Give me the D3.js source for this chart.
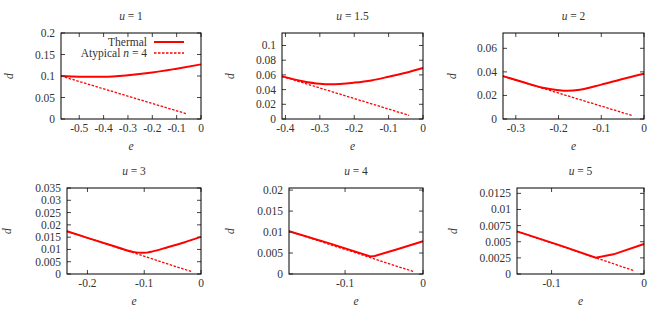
<!DOCTYPE html>
<html>
<head>
<meta charset="utf-8">
<script src="https://cdn.jsdelivr.net/npm/d3@7"></script>
<style>
  body { margin: 0; background: #fff; }
</style>
</head>
<body>
<svg id="chart" width="664" height="310" font-family="Liberation Serif" font-size="11.5"></svg>
<script>
// values, [e, d]
var uValues = [1, 1.5, 2, 3, 4, 5]

var thermalU1 = [[-0.575,0.1],[-0.5,0.0985],[-0.4,0.098],[-0.3,0.1015],[-0.2,0.108],[-0.1,0.117],[0,0.127]]
var thermalU15 = [[-0.41,0.058],[-0.35,0.0515],[-0.3,0.048],[-0.27,0.0472],[-0.2,0.0495],[-0.15,0.0525],[-0.1,0.0575],[-0.05,0.063],[0,0.0695]]
var thermalU2 = [[-0.33,0.0364],[-0.28,0.031],[-0.24,0.0268],[-0.2,0.0245],[-0.18,0.024],[-0.15,0.0248],[-0.1,0.0292],[-0.05,0.034],[0,0.0384]]
var thermalU3 = [[-0.236,0.0174],[-0.2,0.0147],[-0.15,0.0111],[-0.12,0.009],[-0.105,0.0086],[-0.095,0.0087],[-0.085,0.0092],[-0.06,0.0108],[-0.03,0.0128],[0,0.0151]]
var thermalU4 = [[-0.172,0.0102],[-0.12,0.0073],[-0.0675,0.0042],[-0.062,0.0043],[-0.033,0.0059],[0,0.0078]]
var thermalU5 = [[-0.1374,0.0066],[-0.09,0.0044],[-0.0522,0.00253],[-0.033,0.00305],[0,0.00465]]

var atypicalU1 = [[-0.575,0.1],[-0.057,0.0117]]
var atypicalU15 = [[-0.41,0.058],[-0.0406,0.005]]
var atypicalU2 = [[-0.33,0.0364],[-0.0266,0.0028]]
var atypicalU3 = [[-0.236,0.0174],[-0.017,0.001]]
var atypicalU4 = [[-0.172,0.0102],[-0.012,0.00056]]
var atypicalU5 = [[-0.1374,0.0066],[-0.0108,0.00052]]

var xDomains = [[-0.575,0],[-0.41,0],[-0.33,0],[-0.236,0],[-0.172,0],[-0.1374,0]]
var yDomains = [[0,0.2],[0,0.117],[0,0.073],[0,0.035],[0,0.0205],[0,0.01333]]
var xTickValues = [[-0.5,-0.4,-0.3,-0.2,-0.1,0],[-0.4,-0.3,-0.2,-0.1,0],[-0.3,-0.2,-0.1,0],[-0.2,-0.1,0],[-0.1,0],[-0.1,0]]
var yTickValues = [
  [0,0.05,0.1,0.15,0.2],
  [0,0.02,0.04,0.06,0.08,0.1],
  [0,0.02,0.04,0.06],
  [0,0.005,0.01,0.015,0.02,0.025,0.03,0.035],
  [0,0.005,0.01,0.015,0.02],
  [0,0.0025,0.005,0.0075,0.01,0.0125]
]

var thermal = [thermalU1, thermalU15, thermalU2, thermalU3, thermalU4, thermalU5]
var atypical = [atypicalU1, atypicalU15, atypicalU2, atypicalU3, atypicalU4, atypicalU5]

// plot boxes [left, top, right, bottom] and y-label x position
var boxes = [
  [61,33,201,119,9],[282,33,423,119,230],[503,33,644,119,452],
  [67,188,201,274,7],[289,188,423,274,230],[517,188,644,274,453]
]

var svg = d3.select("#chart")
var fmt = function(v) { return String(+v.toFixed(6)) }
var textCol = "#333"

uValues.forEach(function(u, i) {
  var b = boxes[i]
  var x = d3.scaleLinear().domain(xDomains[i]).range([b[0], b[2]])
  var y = d3.scaleLinear().domain(yDomains[i]).range([b[3], b[1]])
  var g = svg.append("g")

  // curves
  var line = d3.line().x(function(d){return x(d[0])}).y(function(d){return y(d[1])})
  g.append("path").datum(atypical[i]).attr("d", line)
    .attr("fill","none").attr("stroke","#ff0000").attr("stroke-width",1.3)
    .attr("stroke-dasharray","2.5,1.5")
  var tline = i < 4 ? line.curve(d3.curveMonotoneX) : line
  g.append("path").datum(thermal[i]).attr("d", tline)
    .attr("fill","none").attr("stroke","#ff0000").attr("stroke-width",2)

  // inward ticks on all sides
  var tl = 4
  xTickValues[i].forEach(function(t) {
    g.append("line").attr("x1",x(t)).attr("x2",x(t)).attr("y1",b[3]).attr("y2",b[3]-tl).attr("stroke","#444")
    g.append("line").attr("x1",x(t)).attr("x2",x(t)).attr("y1",b[1]).attr("y2",b[1]+tl).attr("stroke","#444")
    g.append("text").attr("x",x(t)).attr("y",b[3]+13).attr("text-anchor","middle").attr("fill",textCol).text(fmt(t))
  })
  yTickValues[i].forEach(function(t) {
    g.append("line").attr("x1",b[0]).attr("x2",b[0]+tl).attr("y1",y(t)).attr("y2",y(t)).attr("stroke","#444")
    g.append("line").attr("x1",b[2]).attr("x2",b[2]-tl).attr("y1",y(t)).attr("y2",y(t)).attr("stroke","#444")
    g.append("text").attr("x",b[0]-6).attr("y",y(t)+4).attr("text-anchor","end").attr("fill",textCol).text(fmt(t))
  })

  g.append("rect").attr("x",b[0]).attr("y",b[1]).attr("width",b[2]-b[0]).attr("height",b[3]-b[1])
    .attr("fill","none").attr("stroke","#000").attr("stroke-width",1)

  // title and axis labels
  var cx = (b[0]+b[2])/2
  var tt = g.append("text").attr("x",cx).attr("y",b[1]-13).attr("text-anchor","middle").attr("fill",textCol)
  tt.append("tspan").attr("font-style","italic").text("u")
  tt.append("tspan").text(" = " + u)
  g.append("text").attr("x",cx).attr("y",b[3]+31).attr("text-anchor","middle").attr("fill",textCol)
    .attr("font-style","italic").text("e")
  g.append("text").attr("transform","translate(" + (b[4]+4) + "," + ((b[1]+b[3])/2) + ") rotate(-90)")
    .attr("text-anchor","middle").attr("font-style","italic").attr("fill",textCol).text("d")

  if (i === 0) {
    var lg = g.append("g")
    lg.append("text").attr("x",147).attr("y",46).attr("text-anchor","end").attr("fill",textCol).text("Thermal")
    lg.append("line").attr("x1",154).attr("x2",184).attr("y1",42).attr("y2",42)
      .attr("stroke","#ff0000").attr("stroke-width",2)
    var t2 = lg.append("text").attr("x",147).attr("y",57).attr("text-anchor","end").attr("fill",textCol)
    t2.append("tspan").text("Atypical ")
    t2.append("tspan").attr("font-style","italic").text("n")
    t2.append("tspan").text(" = 4")
    lg.append("line").attr("x1",154).attr("x2",184).attr("y1",53).attr("y2",53)
      .attr("stroke","#ff0000").attr("stroke-width",1.3).attr("stroke-dasharray","2.5,1.5")
  }
})
</script>
</body>
</html>
